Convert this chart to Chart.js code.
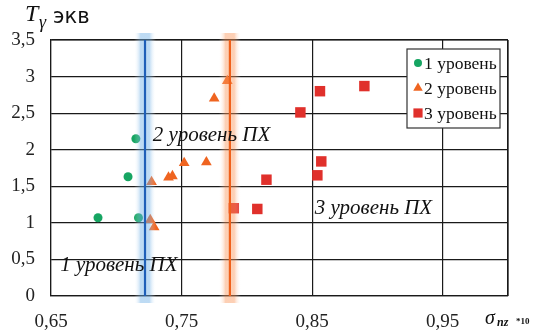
<!DOCTYPE html>
<html>
<head>
<meta charset="utf-8">
<script src="https://cdn.jsdelivr.net/npm/chart.js@4"></script>
<style>
  html, body { margin: 0; padding: 0; background: #fff; }
  #wrap { width: 540px; height: 336px; }
</style>
</head>
<body>
<div id="wrap"><canvas id="chart"></canvas></div>
<script>
// level 1 (green circles)
const lvl1X = [0.686, 0.717, 0.709, 0.715];
const lvl1Y = [1.07, 1.07, 1.63, 2.15];
// level 2 (orange triangles)
const lvl2X = [0.727, 0.726, 0.729, 0.740, 0.743, 0.752, 0.769, 0.775, 0.785];
const lvl2Y = [1.56, 1.04, 0.94, 1.62, 1.64, 1.82, 1.83, 2.70, 2.94];
// level 3 (red squares)
const lvl3X = [0.790, 0.808, 0.815, 0.841, 0.856, 0.890, 0.857, 0.854];
const lvl3Y = [1.20, 1.19, 1.59, 2.51, 2.80, 2.87, 1.84, 1.65];

const seriesNames = ['1 уровень', '2 уровень', '3 уровень'];
const xTicks = [0.65, 0.75, 0.85, 0.95];
const boundaries = [0.722, 0.787];
const zoneLabels = [
  { text: '1 уровень ПХ', x: 0.657, y: 0.42 },
  { text: '2 уровень ПХ', x: 0.728, y: 2.2 },
  { text: '3 уровень ПХ', x: 0.852, y: 1.20 }
];

function pts(xs, ys) {
  return xs.map(function (x, i) { return { x: x, y: ys[i] }; });
}
const comma = function (v) { return String(v).replace('.', ','); };

document.addEventListener('DOMContentLoaded', function () {
  const ctx = document.getElementById('chart').getContext('2d');
  const serif = "'Liberation Serif', 'DejaVu Serif', serif";

  new Chart(ctx, {
    type: 'scatter',
    data: {
      datasets: [
        { label: seriesNames[0], data: pts(lvl1X, lvl1Y), pointStyle: 'circle', pointRadius: 4.5,
          backgroundColor: '#16a562', borderColor: '#16a562', borderWidth: 0 },
        { label: seriesNames[1], data: pts(lvl2X, lvl2Y), pointStyle: 'triangle', pointRadius: 6.2,
          backgroundColor: '#ef6420', borderColor: '#ef6420', borderWidth: 0 },
        { label: seriesNames[2], data: pts(lvl3X, lvl3Y), pointStyle: 'rect', pointRadius: 7.4,
          backgroundColor: '#e0302b', borderColor: '#e0302b', borderWidth: 0 }
      ]
    },
    options: {
      responsive: true,
      maintainAspectRatio: false,
      animation: false,
      layout: { padding: { top: 40, right: 32, left: 0, bottom: 0 } },
      plugins: { legend: { display: false }, tooltip: { enabled: false } },
      scales: {
        x: {
          type: 'linear', min: 0.65, max: 1.0,
          afterBuildTicks: function (axis) {
            axis.ticks = xTicks.concat([1.0]).map(function (v) { return { value: v }; });
          },
          afterFit: function (axis) { axis.height = 40; },
          grid: { color: '#1a1a1a', lineWidth: 1.2, drawTicks: false },
          border: { color: '#1a1a1a', width: 1.2 },
          ticks: {
            color: '#222', padding: 15,
            font: { family: serif, size: 19 },
            callback: function (v) { return v >= 0.999 ? '' : comma(Math.round(v * 100) / 100); }
          }
        },
        y: {
          min: 0, max: 3.5,
          afterFit: function (axis) { axis.width = 51; },
          grid: { color: '#1a1a1a', lineWidth: 1.2, drawTicks: false },
          border: { color: '#1a1a1a', width: 1.2 },
          ticks: {
            stepSize: 0.5, color: '#222', padding: 16,
            font: { family: serif, size: 19 },
            callback: function (v) { return comma(v); }
          }
        }
      }
    },
    plugins: [{
      id: 'extras',
      afterDatasetsDraw: function (chart) {
        const c = chart.ctx;
        const xs = chart.scales.x, ys = chart.scales.y;
        const area = chart.chartArea;
        c.save();
        // right and top border lines
        c.strokeStyle = '#1a1a1a';
        c.lineWidth = 1.2;
        c.beginPath();
        c.moveTo(area.right, area.top); c.lineTo(area.right, area.bottom);
        c.moveTo(area.left, area.top); c.lineTo(area.right, area.top);
        c.stroke();

        // boundary lines with glow
        const cols = [
          { band: 'rgba(110,175,230,0.45)', line: '#1f5fb8' },
          { band: 'rgba(250,150,90,0.45)', line: '#f0601a' }
        ];
        boundaries.forEach(function (b, i) {
          const px = xs.getPixelForValue(b);
          const grad = c.createLinearGradient(px - 11, 0, px + 11, 0);
          grad.addColorStop(0, 'rgba(255,255,255,0)');
          grad.addColorStop(0.3, cols[i].band);
          grad.addColorStop(0.7, cols[i].band);
          grad.addColorStop(1, 'rgba(255,255,255,0)');
          c.fillStyle = grad;
          c.fillRect(px - 11, area.top - 7, 22, area.bottom - area.top + 14);
          c.strokeStyle = cols[i].line;
          c.lineWidth = 2.2;
          c.beginPath();
          c.moveTo(px, area.top); c.lineTo(px, area.bottom);
          c.stroke();
        });

        // zone labels
        c.fillStyle = '#111';
        c.font = "italic 21px " + serif;
        c.textBaseline = 'middle';
        c.textAlign = 'left';
        zoneLabels.forEach(function (z) {
          c.fillText(z.text, xs.getPixelForValue(z.x), ys.getPixelForValue(z.y));
        });

        // axis titles
        c.font = "italic 24px " + serif;
        c.fillText('T', 25, 15);
        c.font = "italic 18px " + serif;
        c.fillText('γ', 39, 23);
        c.font = "21px 'DejaVu Sans', sans-serif";
        c.fillText('экв', 53, 18);

        c.font = "italic 20px " + serif;
        c.fillText('σ', 485, 319);
        c.font = "italic bold 12px " + serif;
        c.fillText('nz', 497, 323);
        c.font = "bold 9px " + serif;
        c.fillText('*10', 516, 322);

        // legend
        const lx = 407, ly = 49, lw = 93, lh = 79;
        c.fillStyle = '#fff';
        c.fillRect(lx, ly, lw, lh);
        c.strokeStyle = '#333';
        c.lineWidth = 1.2;
        c.strokeRect(lx, ly, lw, lh);
        c.font = "17.5px " + serif;
        chart.data.datasets.forEach(function (ds, i) {
          const ry = ly + 14 + i * 25;
          const sz = { circle: 4, triangle: 5.5, rect: 6.5 }[ds.pointStyle];
          c.fillStyle = ds.backgroundColor;
          Chart.helpers.drawPoint(c, { pointStyle: ds.pointStyle, radius: sz, borderWidth: 0 }, lx + 11, ry);
          c.fillStyle = '#111';
          c.fillText(ds.label, lx + 17, ry + 1);
        });
        c.restore();
      }
    }]
  });
});
</script>
</body>
</html>
